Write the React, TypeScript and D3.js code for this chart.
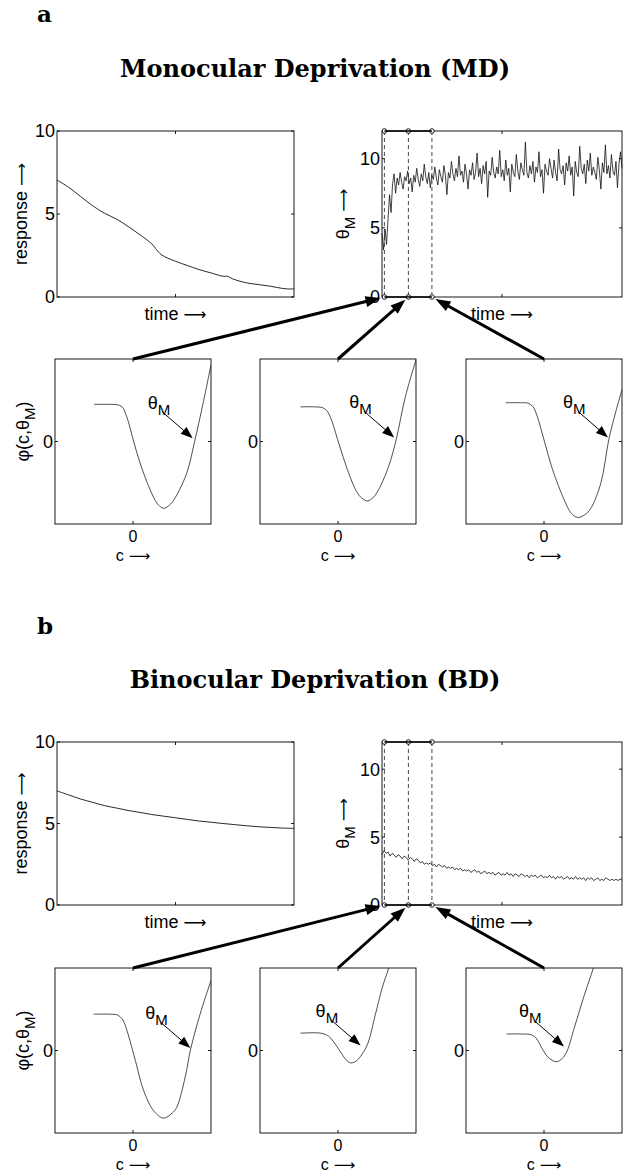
import * as d3 from 'd3';
import React from 'react';

const W = 631;
const H = 1175;
const sans = '"Liberation Sans", Arial, Helvetica, sans-serif';
const serif = '"DejaVu Serif", "Liberation Serif", serif';
const arrowFont = '"DejaVu Sans", sans-serif';
const FS = 18;

// response of the closed eye (arbitrary time units 0..100)
const respTimeMD = [0, 5, 10, 15, 20, 25, 30, 35, 40, 42, 44, 50, 55, 60, 65, 70, 72, 74, 80, 85, 90, 95, 98, 100];
const respMD = [7.05, 6.6, 6.05, 5.5, 5.05, 4.7, 4.25, 3.75, 3.2, 2.85, 2.55, 2.15, 1.9, 1.65, 1.45, 1.25, 1.25, 1.1, 0.85, 0.75, 0.65, 0.52, 0.48, 0.5];
const respTimeBD = [0, 5, 10, 15, 20, 25, 30, 35, 40, 45, 50, 55, 60, 65, 70, 75, 80, 85, 90, 95, 100];
const respBD = [7.0, 6.75, 6.5, 6.3, 6.1, 5.95, 5.8, 5.68, 5.55, 5.45, 5.35, 5.25, 5.15, 5.08, 5.0, 4.93, 4.86, 4.8, 4.76, 4.72, 4.7];

// modification threshold, sampled evenly over time 0..1000
const thetaMD = [
  4.6, 3.4, 4.9, 3.8, 5.6, 7.4, 6.1, 8.2, 8.9, 7.5, 8.6, 8.1, 9.0, 8.3, 7.8, 8.7, 8.4, 9.1, 8.2, 8.6,
  7.6, 8.8, 8.3, 9.3, 8.5, 8.0, 8.9, 8.4, 9.6, 8.7, 8.2, 9.0, 7.9, 8.8, 8.5, 9.4, 8.6, 8.1, 9.2, 8.7,
  8.3, 9.5, 8.8, 7.4, 9.0, 8.6, 9.8, 8.9, 8.4, 9.3, 8.7, 10.2, 8.8, 9.1, 8.3, 9.6, 8.9, 7.8, 9.2, 8.8,
  9.7, 8.5, 9.0, 10.4, 8.7, 9.3, 8.2, 9.5, 8.9, 9.8, 7.2, 9.1, 8.8, 10.1, 9.0, 8.6, 9.4, 8.9, 10.6, 8.7,
  9.2, 8.4, 9.9, 8.8, 9.3, 7.6, 9.6, 9.0, 8.7, 10.3, 9.1, 8.5, 9.7, 9.2, 8.8, 11.2, 9.0, 8.6, 9.5, 8.9,
  9.8, 8.3, 9.4, 9.0, 10.5, 8.7, 9.2, 7.5, 9.6, 9.1, 8.8, 10.0, 9.3, 8.6, 9.9, 9.0, 8.4, 10.7, 9.2, 8.9,
  9.5, 8.1, 9.7, 9.1, 10.2, 8.8, 9.4, 7.3, 9.8, 9.0, 8.7, 10.9, 9.3, 8.9, 9.6, 8.2, 9.9, 9.1, 10.4, 8.8,
  9.4, 9.0, 8.5, 10.1, 9.2, 7.8, 9.7, 9.0, 11.0, 8.9, 9.5, 8.6, 10.3, 9.1, 8.8, 9.8, 7.9, 9.6, 10.5, 9.3
];
const thetaBD = [
  3.7, 4.0, 3.8, 3.9, 3.6, 3.8, 3.7, 3.5, 3.7, 3.6, 3.4, 3.6, 3.5, 3.3, 3.5, 3.4, 3.2, 3.4, 3.3, 3.1,
  3.2, 3.0, 3.1, 3.0, 3.1, 2.9, 3.0, 2.8, 3.0, 2.9, 2.8, 2.9, 2.7, 2.8, 2.7, 2.8, 2.6, 2.7, 2.6, 2.7,
  2.5, 2.6, 2.5, 2.6, 2.4, 2.5, 2.6, 2.4, 2.5, 2.3, 2.4, 2.5, 2.3, 2.4, 2.3, 2.4, 2.2, 2.3, 2.4, 2.2,
  2.3, 2.2, 2.4, 2.2, 2.3, 2.1, 2.3, 2.2, 2.1, 2.3, 2.2, 2.1, 2.2, 2.0, 2.2, 2.1, 2.2, 2.0, 2.1, 2.2,
  2.0, 2.1, 2.0, 2.2, 2.0, 2.1, 1.9, 2.1, 2.0, 2.1, 1.9, 2.0, 2.1, 1.9, 2.0, 1.9, 2.1, 1.9, 2.0, 1.9,
  2.0, 1.8, 2.0, 1.9, 2.0, 1.8, 1.9, 2.0, 1.8, 1.9, 1.8, 2.0, 1.9, 1.8, 1.9, 1.8, 1.9, 1.8, 1.9, 1.9
];
const markerTimes = [10, 110, 208];

// phi(c, thetaM) snapshots, [c, phi] in normalised units
const phiA1 = [[-0.5, 0.45], [-0.3, 0.45], [-0.2, 0.445], [-0.14, 0.42], [-0.08, 0.3], [0, 0.03], [0.09, -0.26], [0.22, -0.585], [0.31, -0.75], [0.39, -0.81], [0.48, -0.76], [0.56, -0.65], [0.69, -0.38], [0.79, 0], [0.9, 0.47], [1.0, 0.93]];
const phiA2 = [[-0.48, 0.42], [-0.3, 0.42], [-0.2, 0.41], [-0.15, 0.38], [-0.1, 0.3], [0.01, -0.02], [0.12, -0.34], [0.24, -0.61], [0.31, -0.69], [0.38, -0.72], [0.45, -0.68], [0.52, -0.585], [0.65, -0.3], [0.75, 0.04], [0.86, 0.53], [1.0, 0.99]];
const phiA3 = [[-0.49, 0.47], [-0.3, 0.47], [-0.21, 0.465], [-0.14, 0.42], [-0.085, 0.3], [0, 0.02], [0.11, -0.34], [0.26, -0.71], [0.35, -0.87], [0.43, -0.92], [0.52, -0.89], [0.6, -0.81], [0.73, -0.5], [0.83, 0.02], [0.92, 0.36], [1.0, 0.63]];
const phiB1 = [[-0.505, 0.44], [-0.3, 0.44], [-0.2, 0.43], [-0.13, 0.37], [-0.077, 0.24], [0.03, -0.12], [0.136, -0.485], [0.264, -0.73], [0.39, -0.82], [0.5, -0.76], [0.56, -0.69], [0.67, -0.32], [0.735, 0], [0.86, 0.44], [1.0, 0.85]];
const phiB2 = [[-0.48, 0.21], [-0.3, 0.215], [-0.22, 0.21], [-0.15, 0.19], [-0.094, 0.15], [0.035, -0.02], [0.1, -0.11], [0.163, -0.15], [0.23, -0.13], [0.29, -0.07], [0.38, 0.08], [0.48, 0.44], [0.57, 0.77], [0.646, 0.99], [0.7, 1.2]];
const phiB3 = [[-0.48, 0.2], [-0.3, 0.2], [-0.16, 0.19], [-0.1, 0.15], [-0.056, 0.08], [0.05, -0.08], [0.16, -0.137], [0.23, -0.1], [0.29, -0.02], [0.39, 0.28], [0.52, 0.68], [0.63, 0.99], [0.68, 1.15]];
// where the thetaM arrow points in each snapshot
const tipsA = [[0.765, 0.04], [0.72, 0.05], [0.82, 0.05]];
const tipsB = [[0.735, 0.03], [0.29, 0.06], [0.256, 0.05]];

const respX = [57, 294];
const thetaX = [382, 622];
const phiX = [[55, 211], [260, 416], [466, 622]];
const TICK = 3;

function Arrow({ x1, y1, x2, y2, sw, head, half }) {
  const dx = x2 - x1, dy = y2 - y1;
  const L = Math.hypot(dx, dy);
  const ux = dx / L, uy = dy / L;
  const bx = x2 - ux * head, by = y2 - uy * head;
  const pts = [[x2, y2], [bx - uy * half, by + ux * half], [bx + uy * half, by - ux * half]];
  return (
    <g>
      <line x1={x1} y1={y1} x2={bx + ux} y2={by + uy} stroke="#000" strokeWidth={sw} />
      <polygon points={pts.map(p => p.join(',')).join(' ')} fill="#000" />
    </g>
  );
}

// long arrow glyph after axis labels
function Arr({ dy, size = 16 }: { dy?: number; size?: number }) {
  return <tspan dy={dy} fontFamily={arrowFont} fontSize={size}> ⟶</tspan>;
}

function Frame({ x, y, xticks, yticks }) {
  const [x0, x1] = x.range();
  const [y0, y1] = y.range();
  return (
    <g stroke="#000" strokeWidth={0.9} fill="none">
      <rect x={x0} y={y1} width={x1 - x0} height={y0 - y1} />
      {xticks.map(t => (
        <g key={'x' + t}>
          <line x1={x(t)} x2={x(t)} y1={y0} y2={y0 - TICK} />
          <line x1={x(t)} x2={x(t)} y1={y1} y2={y1 + TICK} />
        </g>
      ))}
      {yticks.map(t => (
        <g key={'y' + t}>
          <line x1={x0} x2={x0 + TICK} y1={y(t)} y2={y(t)} />
          <line x1={x1} x2={x1 - TICK} y1={y(t)} y2={y(t)} />
        </g>
      ))}
    </g>
  );
}

function ResponsePlot({ top, bottom, times, values }) {
  const x = d3.scaleLinear().domain([0, 100]).range(respX);
  const y = d3.scaleLinear().domain([0, 10]).range([bottom, top]);
  const line = d3.line().x((d, i) => x(times[i])).y(d => y(d)).curve(d3.curveCatmullRom.alpha(0.5));
  const mid = (top + bottom) / 2;
  return (
    <g>
      <Frame x={x} y={y} xticks={[50]} yticks={[0, 5, 10]} />
      <path d={line(values)} fill="none" stroke="#111" strokeWidth={0.9} />
      {[0, 5, 10].map(t => (
        <text key={t} x={respX[0] - 2} y={y(t)} dy="0.36em" textAnchor="end" fontSize={FS}>{t}</text>
      ))}
      <text x={(respX[0] + respX[1]) / 2} y={bottom + 23} textAnchor="middle" fontSize={FS}>time<Arr /></text>
      <text transform={`translate(27,${mid}) rotate(-90)`} textAnchor="middle" fontSize={FS}>response<Arr /></text>
    </g>
  );
}

function ThetaPlot({ top, bottom, values }) {
  const x = d3.scaleLinear().domain([0, 1000]).range(thetaX);
  const y = d3.scaleLinear().domain([0, 12]).range([bottom, top]);
  const step = 1000 / (values.length - 1);
  const line = d3.line().x((d, i) => x(i * step)).y(d => y(d));
  const mid = (top + bottom) / 2;
  return (
    <g>
      <Frame x={x} y={y} xticks={[500]} yticks={[5, 10]} />
      <path d={line(values)} fill="none" stroke="#111" strokeWidth={0.8} />
      {markerTimes.map(t => (
        <g key={t}>
          <line x1={x(t)} x2={x(t)} y1={top} y2={bottom} stroke="#333" strokeWidth={0.9} strokeDasharray="4,3" />
          <circle cx={x(t)} cy={top} r={2.3} fill="#fff" stroke="#000" strokeWidth={0.9} />
          <circle cx={x(t)} cy={bottom} r={2.3} fill="#fff" stroke="#000" strokeWidth={0.9} />
        </g>
      ))}
      <line x1={x(markerTimes[0])} x2={x(markerTimes[2])} y1={top} y2={top} stroke="#000" strokeWidth={1.5} />
      <line x1={x(markerTimes[0])} x2={x(markerTimes[2])} y1={bottom} y2={bottom} stroke="#000" strokeWidth={1.5} />
      {[0, 5, 10].map(t => (
        <text key={t} x={thetaX[0] - 2} y={y(t)} dy="0.36em" textAnchor="end" fontSize={FS}>{t}</text>
      ))}
      <text x={(thetaX[0] + thetaX[1]) / 2} y={bottom + 23} textAnchor="middle" fontSize={FS}>time<Arr /></text>
      <text transform={`translate(349,${mid}) rotate(-90)`} textAnchor="middle" fontSize={FS}>
        θ<tspan dy={6} fontSize={15}>M</tspan><Arr dy={-6} />
      </text>
    </g>
  );
}

function PhiPanel({ extent, top, bottom, curve, tip, first }) {
  const x = d3.scaleLinear().domain([-1, 1]).range(extent);
  const y = d3.scaleLinear().domain([-1, 1]).range([bottom, top]);
  const line = d3.line().x(d => x(d[0])).y(d => y(d[1])).curve(d3.curveCatmullRom.alpha(0.5));
  const id = `clip-${extent[0]}-${top}`;
  const tx = x(tip[0]), ty = y(tip[1]);
  return (
    <g>
      <clipPath id={id}>
        <rect x={extent[0]} y={top} width={extent[1] - extent[0]} height={bottom - top} />
      </clipPath>
      <Frame x={x} y={y} xticks={[0]} yticks={[0]} />
      <path d={line(curve)} fill="none" stroke="#222" strokeWidth={0.8} clipPath={`url(#${id})`} />
      <Arrow x1={tx - 30} y1={ty - 26} x2={tx} y2={ty} sw={1} head={12} half={4.5} />
      <text x={tx - 45} y={ty - 29} fontSize={FS}>
        θ<tspan dy={6} fontSize={15}>M</tspan>
      </text>
      <text x={extent[0] - 2} y={y(0)} dy="0.36em" textAnchor="end" fontSize={FS}>0</text>
      <text x={x(0)} y={bottom + 18} textAnchor="middle" fontSize={16}>0</text>
      <text x={x(0)} y={bottom + 37} textAnchor="middle" fontSize={16}>c<Arr size={15} /></text>
      {first && (
        <text transform={`translate(29,${(top + bottom) / 2 - 10}) rotate(-90)`} textAnchor="middle" fontSize={FS}>
          φ(c,θ<tspan dy={6} fontSize={15}>M</tspan><tspan dy={-6}>)</tspan>
        </text>
      )}
    </g>
  );
}

function Connectors({ phiTop, plotBottom }) {
  const xt = d3.scaleLinear().domain([0, 1000]).range(thetaX);
  return (
    <g>
      {phiX.map((ext, i) => {
        const xs = d3.scaleLinear().domain([-1, 1]).range(ext)(0);
        const ex = xt(markerTimes[i]);
        const dx = ex - xs, dy = plotBottom - phiTop;
        const L = Math.hypot(dx, dy);
        const k = (L - 4) / L;
        return <Arrow key={i} x1={xs} y1={phiTop} x2={xs + dx * k} y2={phiTop + dy * k} sw={3} head={15} half={5.5} />;
      })}
    </g>
  );
}

function Row({ letter, title, letterY, titleY, plotTop, plotBottom, phiTop, phiBottom, times, resp, theta, phis, tips }) {
  return (
    <g>
      <text x={37} y={letterY} fontFamily={serif} fontWeight="bold" fontSize={23}>{letter}</text>
      <text x={315} y={titleY} textAnchor="middle" fontFamily={serif} fontWeight="bold" fontSize={24}>{title}</text>
      <ResponsePlot top={plotTop} bottom={plotBottom} times={times} values={resp} />
      <ThetaPlot top={plotTop} bottom={plotBottom} values={theta} />
      {phiX.map((ext, i) => (
        <PhiPanel key={i} extent={ext} top={phiTop} bottom={phiBottom} curve={phis[i]} tip={tips[i]} first={i === 0} />
      ))}
      <Connectors phiTop={phiTop} plotBottom={plotBottom} />
    </g>
  );
}

export default function App() {
  return (
    <svg width={W} height={H} style={{ position: 'absolute', left: 0, top: 0, background: '#fff' }} fontFamily={sans}>
      <rect width={W} height={H} fill="#fff" />
      <Row letter="a" title="Monocular Deprivation (MD)" letterY={22} titleY={77}
        plotTop={131} plotBottom={297} phiTop={359} phiBottom={524}
        times={respTimeMD} resp={respMD} theta={thetaMD} phis={[phiA1, phiA2, phiA3]} tips={tipsA} />
      <Row letter="b" title="Binocular Deprivation (BD)" letterY={634} titleY={688}
        plotTop={742} plotBottom={905} phiTop={968} phiBottom={1133}
        times={respTimeBD} resp={respBD} theta={thetaBD} phis={[phiB1, phiB2, phiB3]} tips={tipsB} />
    </svg>
  );
}
